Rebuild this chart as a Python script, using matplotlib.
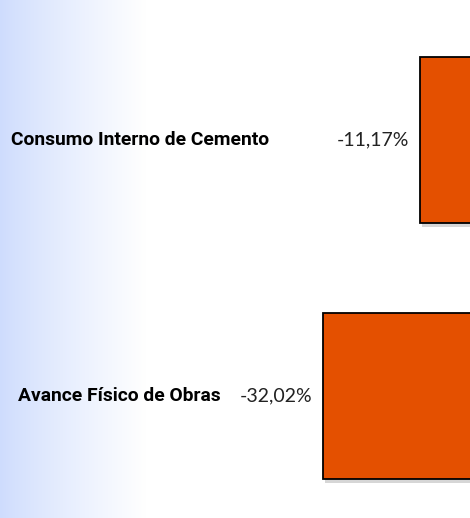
import matplotlib
matplotlib.use("Agg")
import matplotlib.pyplot as plt
import matplotlib.patheffects as pe
import numpy as np

# data
categories = ["Avance Físico de Obras", "Consumo Interno de Cemento"]
values = [-32.02, -11.17]
value_labels = ["-32,02%", "-11,17%"]

bar_color = "#E45000"

fig = plt.figure(figsize=(4.7, 5.18), dpi=100)

# background: light blue fading to white on the left
bg = fig.add_axes([0, 0, 1, 1], zorder=0)
x = np.linspace(0, 1, 470)
fade = np.clip(x / 0.31, 0, 1) ** 0.85
start = np.array([206, 220, 253]) / 255.0
grad = start[None, :] * (1 - fade[:, None]) + fade[:, None]
bg.imshow(grad[None, :, :], extent=[0, 1, 0, 1], aspect="auto")
bg.axis("off")

ax = fig.add_axes([0, 0, 1, 1], zorder=1)
ax.patch.set_alpha(0)

y = np.arange(len(categories))
bars = ax.barh(y, values, height=0.648, color=bar_color, edgecolor="black", linewidth=1.3)
for b in bars:
    b.set_path_effects([pe.SimplePatchShadow(offset=(1.5, -3), shadow_rgbFace="#999999", alpha=0.4),
                        pe.Normal()])

ax.set_xlim(-101.46, -0.43)
ax.set_ylim(-0.4766, 1.547)
ax.axis("off")

# value labels left of bar ends
for yi, v, lab in zip(y, values, value_labels):
    ax.annotate(lab, xy=(v, yi), xytext=(-8, 0), textcoords="offset points",
                ha="right", va="center", fontsize=14, family=["Lato", "DejaVu Sans"],
                color="#222222")

# category labels
label_x = [0.038, 0.023]
for yi, cat, lx in zip(y, categories, label_x):
    ax.text(lx, yi, cat, transform=ax.get_yaxis_transform(), ha="left", va="center",
            fontsize=13.9, fontweight="bold", family=["Roboto", "DejaVu Sans"],
            color="black")

fig.savefig("out.png", dpi=100)
